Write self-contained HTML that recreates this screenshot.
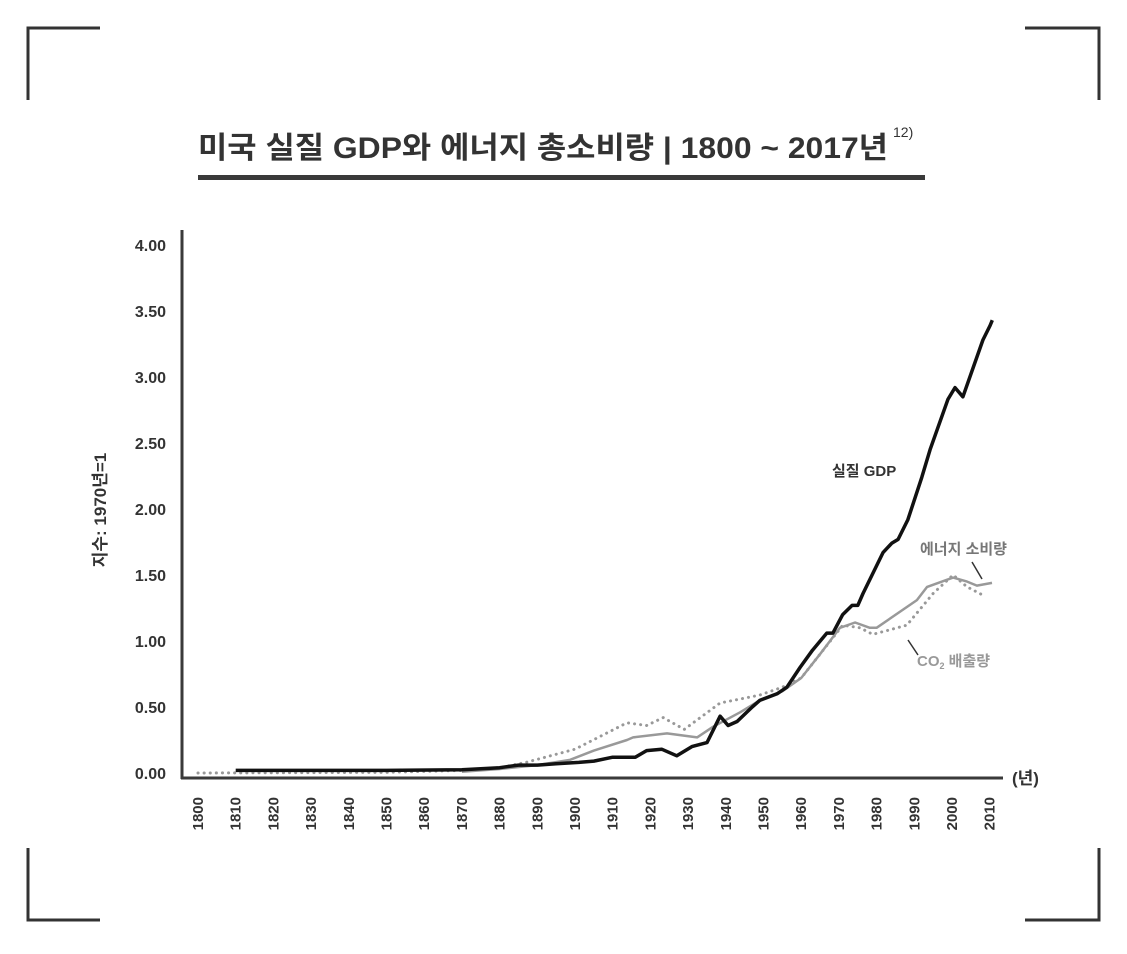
<!DOCTYPE html>
<html><head><meta charset="utf-8"><style>
body{margin:0;background:#fff;}
svg text{font-family:"Liberation Sans","Noto Sans CJK KR",sans-serif;}
</style></head><body>
<svg width="1127" height="949" viewBox="0 0 1127 949" xmlns="http://www.w3.org/2000/svg">
<g stroke="#333" stroke-width="3" fill="none">
<path d="M100,28 H28 V100"/><path d="M1025,28 H1099 V100"/>
<path d="M28,848 V920 H100"/><path d="M1099,848 V920 H1025"/>
</g>
<text x="198" y="158" font-size="30" font-weight="bold" fill="#333" textLength="690" lengthAdjust="spacingAndGlyphs">미국 실질 GDP와 에너지 총소비량 | 1800 ~ 2017년</text>
<text x="893" y="137" font-size="14" fill="#333">12)</text>
<rect x="198" y="175" width="727" height="5" fill="#3a3a3a"/>
<text transform="translate(106,510) rotate(-90)" text-anchor="middle" font-size="17" font-weight="bold" fill="#333">지수: 1970년=1</text>
<g id="yticks"></g><g id="xticks"></g>
<g id="series"></g>
<line x1="182" y1="230" x2="182" y2="779" stroke="#3a3a3a" stroke-width="3"/>
<line x1="181" y1="778" x2="1003" y2="778" stroke="#3a3a3a" stroke-width="3"/>
<text x="1012" y="784" font-size="17" font-weight="bold" fill="#333">(년)</text>
<text x="832" y="476" font-size="15" font-weight="bold" fill="#333">실질 GDP</text>
<text x="920" y="554" font-size="15" font-weight="bold" fill="#777">에너지 소비량</text>
<line x1="972" y1="562" x2="982" y2="579" stroke="#333" stroke-width="1.5"/>
<text x="917" y="666" font-size="15" font-weight="bold" fill="#999">CO<tspan font-size="9" dy="3">2</tspan><tspan dy="-3"> 배출량</tspan></text>
<line x1="908" y1="640" x2="918" y2="655" stroke="#333" stroke-width="1.5"/>
</svg>
<script>
const yTicks=[0,0.5,1,1.5,2,2.5,3,3.5,4];
const yTickLabels=["0.00","0.50","1.00","1.50","2.00","2.50","3.00","3.50","4.00"];
const xTicks=[1800,1810,1820,1830,1840,1850,1860,1870,1880,1890,1900,1910,1920,1930,1940,1950,1960,1970,1980,1990,2000,2010];
const gdpYears=[1810,1830,1850,1870,1880,1885,1890,1895,1901,1905,1910,1916,1919,1923,1927,1931,1935,1938.5,1940.6,1943,1947,1949,1953.6,1956.2,1959.7,1963,1966.8,1968.4,1971,1973.5,1975,1976.4,1981.7,1984,1985.7,1988.3,1992,1994.2,1998.9,2000.8,2002.9,2008.2,2010.1,2010.7];
const gdpValues=[0.02,0.02,0.02,0.025,0.04,0.06,0.06,0.07,0.08,0.09,0.12,0.12,0.17,0.18,0.13,0.2,0.23,0.43,0.36,0.39,0.5,0.55,0.6,0.65,0.8,0.93,1.06,1.06,1.2,1.27,1.27,1.36,1.67,1.74,1.77,1.92,2.24,2.45,2.83,2.92,2.85,3.28,3.39,3.43];
const energyYears=[1870,1880,1890,1898.7,1905,1913.8,1915.4,1924.4,1932.4,1936.6,1943.8,1949,1955,1960,1965,1970.3,1974.3,1978.2,1980,1990.7,1993.4,2000.3,2004,2006.6,2010.6];
const energyValues=[0.01,0.03,0.06,0.1,0.17,0.25,0.27,0.3,0.27,0.35,0.46,0.55,0.62,0.72,0.9,1.1,1.14,1.1,1.1,1.31,1.41,1.48,1.45,1.42,1.44];
const co2Years=[1800,1850,1870,1880,1887,1900,1913.8,1919,1923.4,1929,1938.5,1942,1949,1955,1960,1965,1971,1975.6,1979,1988,1995,2000.3,2004,2008];
const co2Values=[0,0.005,0.02,0.04,0.08,0.18,0.38,0.36,0.42,0.33,0.53,0.55,0.59,0.65,0.72,0.9,1.12,1.1,1.05,1.12,1.36,1.5,1.41,1.35];
const NS="http://www.w3.org/2000/svg";
const X=y=>198+(y-1800)*3.77;
const Y=v=>773-v*132;
const yt=document.getElementById('yticks');
yTicks.forEach((v,i)=>{const t=document.createElementNS(NS,'text');


t.setAttribute('x',166);t.setAttribute('y',Y(v)+6);t.setAttribute('text-anchor','end');t.setAttribute('font-size','16');t.setAttribute('font-weight','bold');t.setAttribute('fill','#333');t.textContent=yTickLabels[i];yt.appendChild(t);});
const xt=document.getElementById('xticks');
xTicks.forEach(y=>{const t=document.createElementNS(NS,'text');


t.setAttribute('transform','translate('+(X(y)+5)+',797) rotate(-90)');t.setAttribute('text-anchor','end');t.setAttribute('font-size','15');t.setAttribute('font-weight','bold');t.setAttribute('fill','#333');t.textContent=y;xt.appendChild(t);});
const sg=document.getElementById('series');
function line(ys,vs,name,stroke,w,dash){const p=document.createElementNS(NS,'path');


p.setAttribute('d',ys.map((y,i)=>(i?'L':'M')+X(y).toFixed(1)+','+Y(vs[i]).toFixed(1)).join(''));
p.setAttribute('fill','none');p.setAttribute('stroke',stroke);p.setAttribute('stroke-width',w);p.setAttribute('stroke-linejoin','round');
if(dash){p.setAttribute('stroke-dasharray',dash);p.setAttribute('stroke-linecap','round');}
sg.appendChild(p);}
line(co2Years,co2Values,'co2-line','#999',3,'0.1 6');
line(energyYears,energyValues,'energy-line','#999',2.5);
line(gdpYears,gdpValues,'gdp-line','#111',3.5);
</script>
</body></html>
